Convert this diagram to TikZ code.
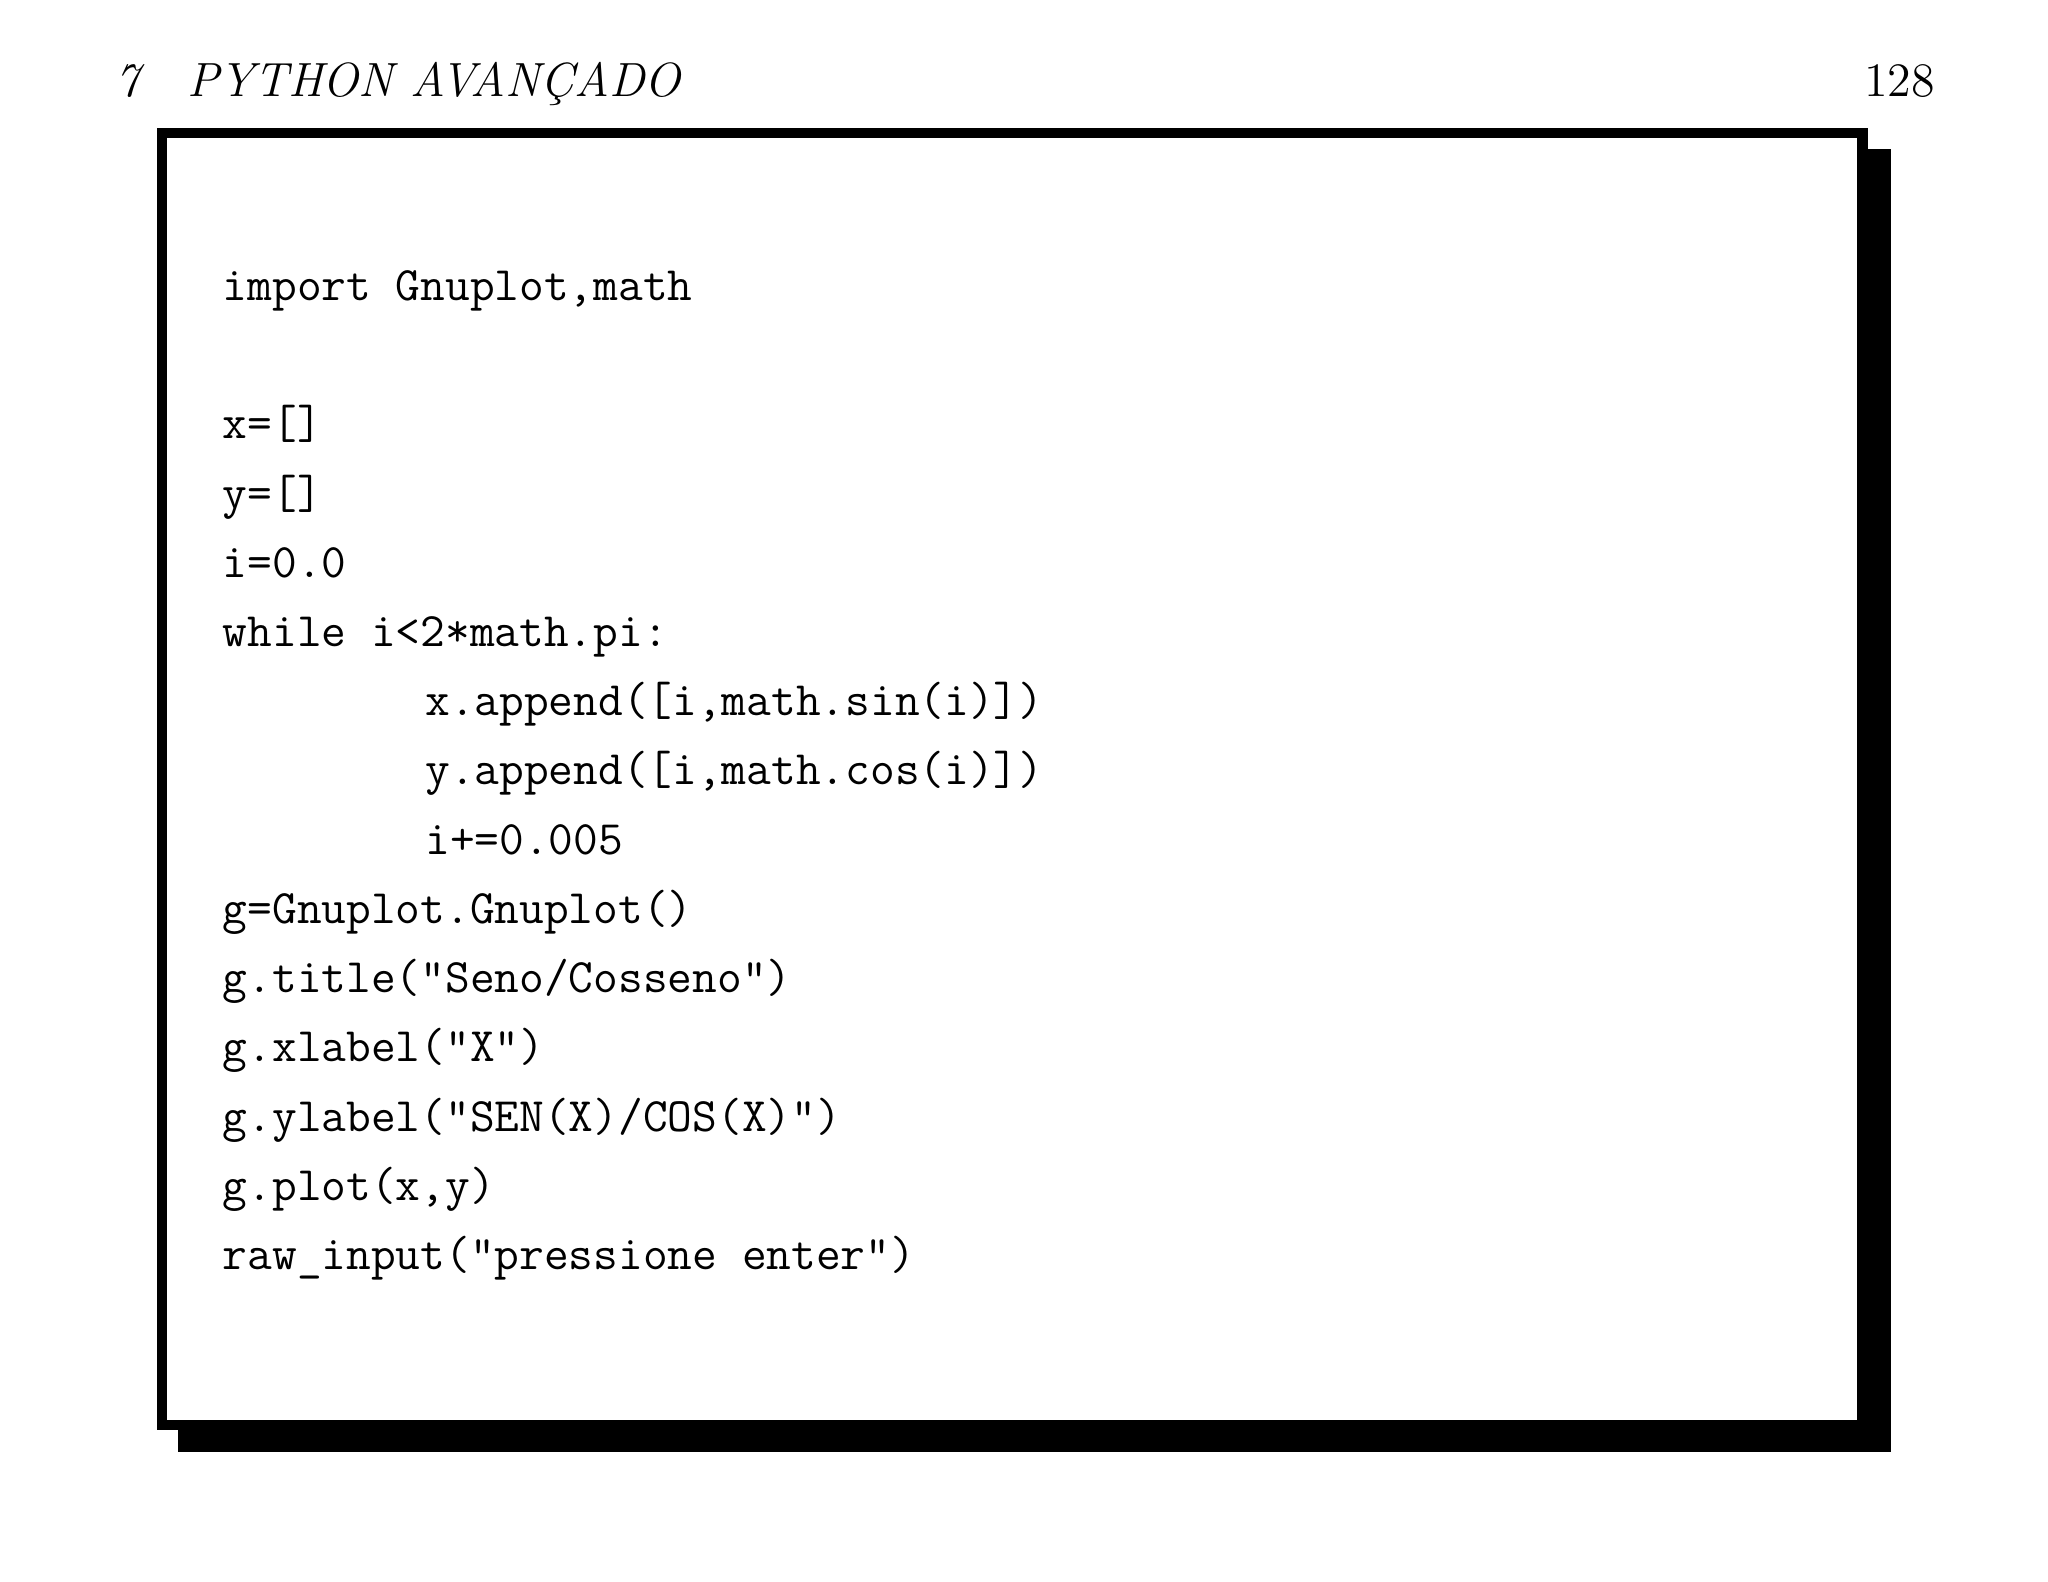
\documentclass[tikz,border=0pt]{standalone}
\begin{document}
\begin{tikzpicture}[x=0.3265pt,y=-0.3265pt,
  code/.style={anchor=base west,inner sep=0pt,font=\fontsize{12}{14}\selectfont\ttfamily},
  head/.style={inner sep=0pt,font=\fontsize{12}{14}\selectfont}]
\useasboundingbox (0,0) rectangle (1568,1211);
\node[head,anchor=base west] (h) at (88,74) {\itshape 7\quad PYTHON AVANÇADO};
\node[head,anchor=base east] (p) at (1482,74) {128};
\fill[black] (136,114) rectangle (1448,1112);
\draw[line width=2.6pt,fill=white] (124,102) rectangle (1426,1091);
\node[code] (l1) at (170,230) {import Gnuplot,math};
\node[code] (l2) at (170,336) {x=[]};
\node[code] (l3) at (170,389) {y=[]};
\node[code] (l4) at (170,442) {i=0.0};
\node[code] (l5) at (170,495) {while i<2*math.pi:};
\node[code] (l6) at (325,548) {x.append([i,math.sin(i)])};
\node[code] (l7) at (325,601) {y.append([i,math.cos(i)])};
\node[code] (l8) at (325,654) {i+=0.005};
\node[code] (l9) at (170,707) {g=Gnuplot.Gnuplot()};
\node[code] (l10) at (170,760) {g.title("Seno/Cosseno")};
\node[code] (l11) at (170,813) {g.xlabel("X")};
\node[code] (l12) at (170,866) {g.ylabel("SEN(X)/COS(X)")};
\node[code] (l13) at (170,919) {g.plot(x,y)};
\node[code] (l14) at (170,972) {raw\_input("pressione enter")};
\end{tikzpicture}
\end{document}
